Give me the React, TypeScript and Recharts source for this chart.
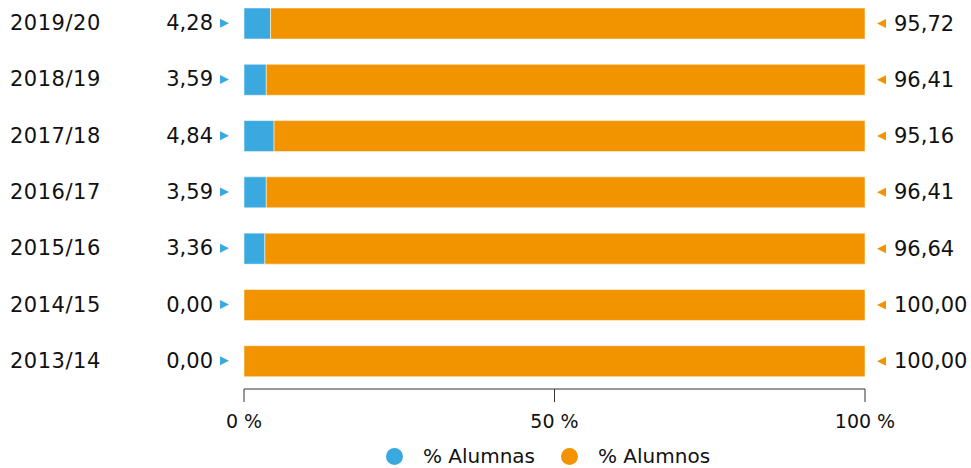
import React from "react";
import { BarChart, Bar, XAxis, YAxis, Legend, LabelList } from "recharts";

const categories = ["2019/20", "2018/19", "2017/18", "2016/17", "2015/16", "2014/15", "2013/14"];
const alumnas = [4.28, 3.59, 4.84, 3.59, 3.36, 0, 0];
const alumnos = [95.72, 96.41, 95.16, 96.41, 96.64, 100, 100];
const xTicks = [0, 50, 100];

const BLUE = "#3aa9df";
const ORANGE = "#f29400";
const FONT = "'DejaVu Sans', Verdana, sans-serif";

const data = categories.map((curso, i) => ({
  curso,
  alumnas: alumnas[i],
  alumnos: alumnos[i],
}));

const fmt = (v: number) => v.toFixed(2).replace(".", ",");

// etiqueta de categoria + valor de alumnas a la izquierda
const LeftTick = (props: any) => {
  const { x, y, payload } = props;
  const v = alumnas[payload.index];
  return (
    <g>
      <text x={x - 234} y={y} dy={7} fontSize={21} letterSpacing={0.5} fill="#111" fontFamily={FONT} textAnchor="start">
        {payload.value}
      </text>
      <text x={x - 31} y={y} dy={7} fontSize={21} fill="#111" fontFamily={FONT} textAnchor="end">
        {fmt(v)}
      </text>
      <polygon points={`${x - 24},${y - 4.5} ${x - 15},${y} ${x - 24},${y + 4.5}`} fill={BLUE} />
    </g>
  );
};

const RightLabel = (props: any) => {
  const { x, y, width, height, value } = props;
  const end = x + width;
  const cy = y + height / 2;
  return (
    <g>
      <polygon points={`${end + 21},${cy - 4.5} ${end + 12},${cy} ${end + 21},${cy + 4.5}`} fill={ORANGE} />
      <text x={end + 29} y={cy} dy={7} fontSize={21} fill="#111" fontFamily={FONT} textAnchor="start">
        {fmt(value)}
      </text>
    </g>
  );
};

const XTick = (props: any) => {
  const { x, y, payload } = props;
  return (
    <text x={x} y={y} dy={24} fontSize={19} fill="#111" fontFamily={FONT} textAnchor="middle">
      {`${payload.value} %`}
    </text>
  );
};

const LegendContent = () => (
  <div
    style={{
      display: "flex",
      justifyContent: "center",
      alignItems: "center",
      height: 24,
      lineHeight: "24px",
      fontFamily: FONT,
      fontSize: 20,
      color: "#111",
      paddingLeft: 125,
    }}
  >
    {[
      { name: "% Alumnas", color: BLUE },
      { name: "% Alumnos", color: ORANGE },
    ].map((it, i) => (
      <span key={it.name} style={{ display: "flex", alignItems: "center", marginLeft: i ? 26 : 0 }}>
        <span
          style={{
            width: 17,
            height: 17,
            borderRadius: 9,
            background: it.color,
            display: "inline-block",
            marginRight: 20,
          }}
        />
        {it.name}
      </span>
    ))}
  </div>
);

export default function App() {
  return (
    <div style={{ position: "absolute", left: 0, top: -5 }}>
      <BarChart
        width={971}
        height={473}
        data={data}
        layout="vertical"
        margin={{ top: 0, right: 106, bottom: 0, left: 0 }}
        barSize={31}
        barCategoryGap={0}
      >
        <XAxis
          type="number"
          domain={[0, 100]}
          ticks={xTicks}
          axisLine={{ stroke: "#333" }}
          tickLine={{ stroke: "#333" }}
          tickSize={13}
          tick={<XTick />}
          height={55}
        />
        <YAxis
          type="category"
          dataKey="curso"
          width={244}
          axisLine={false}
          tickLine={false}
          tickSize={0}
          tickMargin={0}
          tick={<LeftTick />}
        />
        <Legend
          verticalAlign="bottom"
          content={<LegendContent />}
          wrapperStyle={{ left: 0, width: 971, bottom: 0 }}
        />
        <Bar dataKey="alumnas" stackId="a" fill={BLUE} stroke="#fff" strokeWidth={0.5} isAnimationActive={false} />
        <Bar dataKey="alumnos" stackId="a" fill={ORANGE} stroke="#fff" strokeWidth={0.5} isAnimationActive={false}>
          <LabelList dataKey="alumnos" content={<RightLabel />} />
        </Bar>
      </BarChart>
    </div>
  );
}
